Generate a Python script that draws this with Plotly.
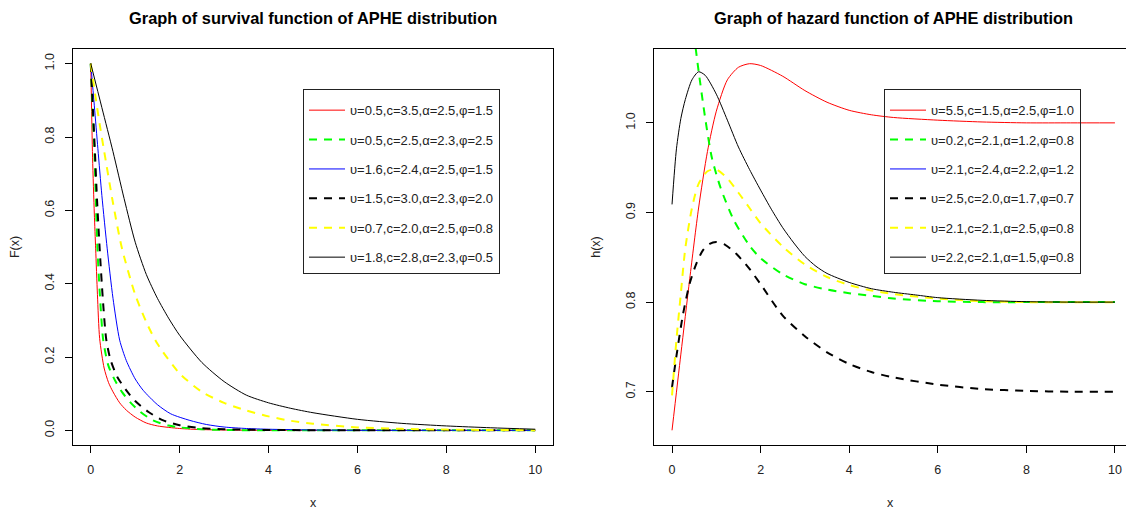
import plotly.graph_objects as go

FONT = "Liberation Sans, Arial, Helvetica, sans-serif"

# ---------------- data: survival function (left panel) ----------------
surv_labels = ["υ=0.5,c=3.5,α=2.5,φ=1.5", "υ=0.5,c=2.5,α=2.3,φ=2.5", "υ=1.6,c=2.4,α=2.5,φ=1.5",
               "υ=1.5,c=3.0,α=2.3,φ=2.0", "υ=0.7,c=2.0,α=2.5,φ=0.8", "υ=1.8,c=2.8,α=2.3,φ=0.5"]

s_red_x = [0, 0.04, 0.08, 0.11, 0.15, 0.2, 0.3, 0.4, 0.5, 0.65, 0.8, 1.0, 1.25, 1.5, 2, 2.5, 3, 4, 6, 8, 10]
s_red_y = [1.0, 0.745, 0.59, 0.495, 0.37, 0.25, 0.17, 0.13, 0.105, 0.075, 0.055, 0.036, 0.02, 0.012, 0.005, 0.002, 0.001, 0, 0, 0, 0]

s_green_x = [0, 0.04, 0.08, 0.12, 0.15, 0.2, 0.28, 0.4, 0.55, 0.7, 0.9, 1.1, 1.4, 1.75, 2, 2.5, 3, 4, 6, 8, 10]
s_green_y = [1.0, 0.88, 0.768, 0.6, 0.495, 0.38, 0.246, 0.175, 0.135, 0.105, 0.075, 0.052, 0.027, 0.013, 0.008, 0.003, 0.001, 0, 0, 0, 0]

s_blue_x = [0, 0.08, 0.16, 0.25, 0.37, 0.5, 0.65, 0.8, 1.0, 1.18, 1.5, 1.8, 2.23, 2.6, 3, 3.5, 4, 5, 6, 8, 10]
s_blue_y = [1.0, 0.885, 0.768, 0.64, 0.495, 0.36, 0.246, 0.19, 0.14, 0.109, 0.07, 0.045, 0.027, 0.016, 0.009, 0.005, 0.003, 0.001, 0, 0, 0]

s_blackd_x = [0, 0.05, 0.09, 0.14, 0.2, 0.27, 0.35, 0.45, 0.6, 0.8, 1.0, 1.3, 1.63, 2, 2.5, 3, 4, 6, 8, 10]
s_blackd_y = [1.0, 0.87, 0.768, 0.63, 0.495, 0.36, 0.246, 0.19, 0.145, 0.109, 0.08, 0.05, 0.027, 0.014, 0.006, 0.003, 0.001, 0, 0, 0]

s_yellow_x = [0, 0.1, 0.2, 0.3, 0.5, 0.7, 1.0, 1.25, 1.5, 2.0, 2.5, 3.0, 3.5, 4.0, 4.5, 5.0, 6.0, 7.0, 8.0, 9.0, 10]
s_yellow_y = [1.0, 0.915, 0.835, 0.762, 0.62, 0.497, 0.37, 0.295, 0.236, 0.155, 0.105, 0.075, 0.054, 0.038, 0.026,
              0.018, 0.008, 0.004, 0.002, 0.001, 0.0005]

s_black_x = [0, 0.25, 0.5, 0.75, 1.0, 1.25, 1.5, 1.75, 2.0, 2.5, 3.0, 3.5, 4.0, 4.5, 5.0, 6.0, 7.0, 8.0, 9.0, 10]
s_black_y = [1.0, 0.88, 0.76, 0.632, 0.513, 0.425, 0.36, 0.306, 0.259, 0.185, 0.133, 0.096, 0.075, 0.06, 0.048,
             0.03, 0.019, 0.012, 0.007, 0.003]

# ---------------- data: hazard function (right panel) ----------------
haz_labels = ["υ=5.5,c=1.5,α=2.5,φ=1.0", "υ=0.2,c=2.1,α=1.2,φ=0.8", "υ=2.1,c=2.4,α=2.2,φ=1.2",
              "υ=2.5,c=2.0,α=1.7,φ=0.7", "υ=2.1,c=2.1,α=2.5,φ=0.8", "υ=2.2,c=2.1,α=1.5,φ=0.8"]

h_red_x = [0, 0.2, 0.4, 0.6, 0.8, 1.0, 1.25, 1.5, 1.75, 2, 2.5, 3, 3.5, 4, 4.5, 5, 6, 7, 8, 9, 10]
h_red_y = [0.657, 0.742, 0.826, 0.905, 0.968, 1.013, 1.048, 1.062, 1.066, 1.064, 1.052, 1.036, 1.023, 1.014,
           1.009, 1.006, 1.003, 1.001, 1.0, 1.0, 1.0]

h_green_x = [0, 0.25, 0.5, 0.6, 0.75, 0.9, 1.1, 1.4, 1.75, 2, 2.5, 3, 3.5, 4, 4.5, 5, 6, 7, 8, 10]
h_green_y = [1.35, 1.21, 1.097, 1.058, 1.005, 0.961, 0.927, 0.891, 0.863, 0.849, 0.831, 0.82, 0.814, 0.81,
             0.807, 0.804, 0.801, 0.8, 0.8, 0.8]

h_blue_x = []
h_blue_y = []

h_blackd_x = [0, 0.1, 0.25, 0.4, 0.55, 0.7, 0.85, 1.0, 1.2, 1.45, 1.75, 2, 2.5, 3, 3.5, 4, 4.5, 5, 6, 7, 8, 9, 10]
h_blackd_y = [0.705, 0.74, 0.787, 0.821, 0.843, 0.858, 0.865, 0.867, 0.864, 0.854, 0.837, 0.82, 0.785, 0.762,
              0.744, 0.731, 0.722, 0.716, 0.708, 0.703, 0.701, 0.7, 0.7]

h_yellow_x = [0, 0.1, 0.2, 0.3, 0.45, 0.6, 0.8, 1.0, 1.25, 1.5, 1.75, 2, 2.5, 3, 3.5, 4, 4.5, 5, 6, 7, 8, 10]
h_yellow_y = [0.696, 0.758, 0.81, 0.86, 0.905, 0.932, 0.946, 0.948, 0.938, 0.922, 0.905, 0.888, 0.862, 0.842,
              0.828, 0.819, 0.813, 0.809, 0.804, 0.801, 0.8, 0.8]

h_black_x = [0, 0.1, 0.2, 0.3, 0.45, 0.6, 0.75, 1.0, 1.25, 1.5, 1.75, 2, 2.25, 2.5, 2.75, 3, 3.25, 3.5, 4, 4.5,
             5, 5.5, 6, 7, 8, 9, 10]
h_black_y = [0.909, 0.971, 1.005, 1.026, 1.048, 1.057, 1.053, 1.032, 1.003, 0.973, 0.948, 0.925, 0.903, 0.883,
             0.866, 0.851, 0.84, 0.832, 0.822, 0.815, 0.811, 0.808, 0.805, 0.802, 0.8005, 0.8, 0.8]

x_ticks = [0, 2, 4, 6, 8, 10]
surv_ticks = [0.0, 0.2, 0.4, 0.6, 0.8, 1.0]
haz_ticks = [0.7, 0.8, 0.9, 1.0]

colors = ["#FF0000", "#00FF00", "#0000FF", "#000000", "#FFFF00", "#000000"]
dashes = ["solid", "8px,7px", "solid", "8px,7px", "8px,7px", "solid"]
widths = [1, 2, 1, 2, 2, 1]

surv_series = [(s_red_x, s_red_y), (s_green_x, s_green_y), (s_blue_x, s_blue_y),
               (s_blackd_x, s_blackd_y), (s_yellow_x, s_yellow_y), (s_black_x, s_black_y)]
haz_series = [(h_red_x, h_red_y), (h_green_x, h_green_y), (h_blue_x, h_blue_y),
              (h_blackd_x, h_blackd_y), (h_yellow_x, h_yellow_y), (h_black_x, h_black_y)]

fig = go.Figure()
for i, (xs, ys) in enumerate(surv_series):
    fig.add_trace(go.Scatter(x=xs, y=ys, mode="lines", name=surv_labels[i],
                             line=dict(color=colors[i], dash=dashes[i], width=widths[i], shape="spline", smoothing=0.7),
                             xaxis="x", yaxis="y", legend="legend", legendgroup="s%d" % i))
for i, (xs, ys) in enumerate(haz_series):
    fig.add_trace(go.Scatter(x=xs if xs else [None], y=ys if ys else [None], mode="lines", name=haz_labels[i],
                             line=dict(color=colors[i], dash=dashes[i], width=widths[i], shape="spline", smoothing=0.7),
                             xaxis="x2", yaxis="y2", legend="legend2", legendgroup="h%d" % i))

W, H = 1126, 510
ydom = [65 / H, 461 / H]

axis_common = dict(showline=True, linecolor="black", linewidth=1, ticks="outside", ticklen=7,
                   tickcolor="black", showgrid=False, zeroline=False, automargin=False,
                   tickfont=dict(family=FONT, size=12.5, color="#222"))

legend_common = dict(xanchor="left", yanchor="top", bordercolor="#222", borderwidth=1,
                     bgcolor="rgba(0,0,0,0)", font=dict(family=FONT, size=13, color="#222"),
                     tracegroupgap=9.5, itemwidth=36,
                     title=dict(text=" ", font=dict(size=4)))

fig.update_layout(
    width=W, height=H, margin=dict(l=0, r=0, t=0, b=0, autoexpand=False),
    paper_bgcolor="white", plot_bgcolor="white", font=dict(family=FONT, color="#222"),
    xaxis=dict(axis_common, domain=[73 / W, 553 / W], range=[-0.4, 10.4], tickvals=x_ticks, mirror=True,
               anchor="y", ticklabelstandoff=6,
               title=dict(text="x", font=dict(family=FONT, size=12.5), standoff=22)),
    yaxis=dict(axis_common, domain=ydom, range=[-0.04, 1.04], tickvals=surv_ticks, tickformat=".1f",
               tickangle=-90, mirror=True, anchor="x", ticklabelstandoff=6,
               title=dict(text="F(x)", font=dict(family=FONT, size=12.5), standoff=20)),
    xaxis2=dict(axis_common, domain=[654.3 / W, 1.0], range=[-0.4, 10.25], tickvals=x_ticks, mirror=True,
                anchor="y2", ticklabelstandoff=6,
                title=dict(text="x", font=dict(family=FONT, size=12.5), standoff=22)),
    yaxis2=dict(axis_common, domain=ydom, range=[0.6406, 1.0824], tickvals=haz_ticks, tickformat=".1f",
                tickangle=-90, mirror=False, anchor="x2", ticklabelstandoff=6,
                title=dict(text="h(x)", font=dict(family=FONT, size=12.5), standoff=20)),
    legend=dict(legend_common, x=303 / W, y=1 - 89 / H),
    legend2=dict(legend_common, x=884 / W, y=1 - 89 / H),
    annotations=[
        dict(text="<b>Graph of survival function of APHE distribution</b>", x=313 / W, y=1 - 18 / H,
             xref="paper", yref="paper", showarrow=False, xanchor="center", yanchor="middle",
             font=dict(family=FONT, size=16.4, color="black")),
        dict(text="<b>Graph of hazard function of APHE distribution</b>", x=893 / W, y=1 - 18 / H,
             xref="paper", yref="paper", showarrow=False, xanchor="center", yanchor="middle",
             font=dict(family=FONT, size=16.4, color="black")),
    ],
)

fig.write_html("out.html", config={"displayModeBar": False},
               post_script="document.body.style.margin='0';document.body.style.overflow='hidden';")
